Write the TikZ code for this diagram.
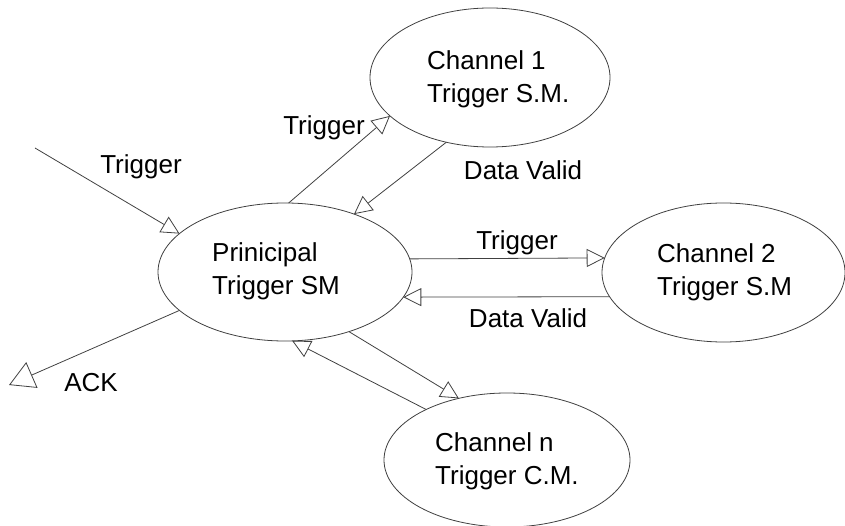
\documentclass[tikz,border=0pt]{standalone}
\usepackage{fontspec}
\setmainfont{Liberation Sans}
\usetikzlibrary{shapes.geometric,arrows.meta}
\begin{document}
\begin{tikzpicture}[x=1pt,y=-1pt,
  statebox/.style={ellipse,draw=black!75,line width=0.8pt,fill=white,outer sep=0pt,inner sep=0pt},
  stext/.style={anchor=west,align=left,inner sep=0pt,font=\fontsize{26}{33}\selectfont},
  lbl/.style={inner sep=0pt,font=\fontsize{26}{33}\selectfont},
  conn/.style={draw=black!75,line width=0.8pt,-{Triangle[open,length=18pt,width=18pt]}},
  bigconn/.style={draw=black!75,line width=0.8pt,-{Triangle[open,length=25pt,width=28pt]}}]
\useasboundingbox (0,0) rectangle (845,526);

% ellipses
\node[statebox,minimum width=254pt,minimum height=138pt] (p) at (285,272) {};
\node[statebox,minimum width=240pt,minimum height=139pt] (c1) at (490,77.5) {};
\node[statebox,minimum width=243pt,minimum height=139pt] (c2) at (723.5,272.5) {};
\node[statebox,minimum width=246pt,minimum height=134pt] (cn) at (507,460) {};

% ellipse texts
\node[stext] (pt) at (212,271) {Prinicipal\\Trigger SM};
\node[stext] (c1t) at (427,79) {Channel 1\\Trigger S.M.};
\node[stext] (c2t) at (657,272.5) {Channel 2\\Trigger S.M};
\node[stext] (cnt) at (435,461.5) {Channel n\\Trigger C.M.};

% free ends
\coordinate (in) at (35,148);
\coordinate (ackend) at (9,385);

% connectors
\draw[conn] (in) -- (p.160.4);
\draw[conn] (p.87.5) -- (c1.201.3);
\draw[conn] (c1.236.5) -- (p.40.4);
\draw[conn] (p.6.4) -- (c2.173.1);
\draw[conn] (c2.192.9) -- (p.-12.2);
\draw[bigconn] (p.200.7) -- (ackend);
\draw[conn] (p.-43.6) -- (cn.128);
\draw[conn] (cn.148.5) -- (p.-84.3);

% labels
\node[lbl] (l0) at (141,167) {Trigger};
\node[lbl] (l1) at (324,128) {Trigger};
\node[lbl] (l2) at (523,170) {Data Valid};
\node[lbl] (l3) at (517,243) {Trigger};
\node[lbl] (l4) at (528,318) {Data Valid};
\node[lbl] (l5) at (91,383) {ACK};
\end{tikzpicture}
\end{document}
